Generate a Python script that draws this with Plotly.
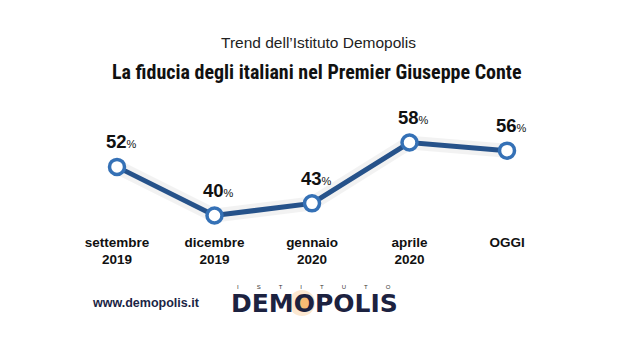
import plotly.graph_objects as go

categories = ["settembre<br>2019", "dicembre<br>2019", "gennaio<br>2020", "aprile<br>2020", "OGGI"]
values = [52, 40, 43, 58, 56]
subtitle = "Trend dell\u2019Istituto Demopolis"
title = "La fiducia degli italiani nel Premier Giuseppe Conte"
site = "www.demopolis.it"
logo_top = "ISTITUTO"
logo = "DEMOPOLIS"

W, H = 635, 357
OFF = 8  # page body margin


def px(x):
    return (x - OFF) / W


def py(y):
    return 1 - (y - OFF) / H


xs = list(range(len(categories)))

fig = go.Figure()
fig.add_trace(go.Scatter(x=xs, y=values, mode="lines",
                         line=dict(color="rgba(0,0,0,0.05)", width=14),
                         hoverinfo="skip", showlegend=False))
fig.add_trace(go.Scatter(x=xs, y=values, mode="lines+markers",
                         line=dict(color="#26528a", width=5),
                         marker=dict(size=15, color="white",
                                     line=dict(color="#3571b6", width=3.5)),
                         showlegend=False))

for x, v in zip(xs, values):
    fig.add_annotation(x=x, y=v, xref="x", yref="y",
                       text=f"<b>{v}</b><span style='font-size:11px'>%</span>",
                       showarrow=False, xshift=4, yshift=25,
                       xanchor="center", yanchor="middle",
                       font=dict(family="Liberation Sans, Arial, sans-serif", size=18.5, color="#111"))

fig.add_annotation(x=px(318), y=py(43), xref="paper", yref="paper", text=subtitle,
                   xanchor="center", yanchor="middle", showarrow=False,
                   font=dict(family="Liberation Sans, Arial", size=15.5, color="#222"))
fig.add_annotation(x=px(317), y=py(72), xref="paper", yref="paper", text=f"<b>{title}</b>",
                   xanchor="center", yanchor="middle", showarrow=False,
                   font=dict(family="Roboto Condensed, Liberation Sans", size=20, color="#111"))
fig.add_annotation(x=px(90), y=py(303), xref="paper", yref="paper",
                   xanchor="left", yanchor="middle",
                   text=f"<b>{site}</b>", showarrow=False,
                   font=dict(family="Liberation Sans, Arial", size=12.5, color="#1b2545"))

# logo glow
fig.add_shape(type="circle", xref="paper", yref="paper",
              x0=px(289), x1=px(315), y0=py(316), y1=py(290),
              fillcolor="rgba(245,165,70,0.25)", line=dict(width=0), layer="below")
fig.add_shape(type="circle", xref="paper", yref="paper",
              x0=px(295), x1=px(309), y0=py(310), y1=py(296),
              fillcolor="rgba(240,150,40,0.55)", line=dict(width=0), layer="below")
fig.add_annotation(x=px(314), y=py(303), xref="paper", yref="paper",
                   xanchor="center", yanchor="middle",
                   text=f"<b>{logo}</b>", showarrow=False,
                   font=dict(family="DejaVu Sans", size=25, color="#1c2240"))
fig.add_annotation(x=px(314), y=py(287), xref="paper", yref="paper",
                   xanchor="center", yanchor="middle",
                   text="\u2003\u2003\u2003".join(logo_top), showarrow=False,
                   font=dict(family="Liberation Sans, Arial", size=6, color="#333"))

# axes: point x=0 at px 117, step 97.5 ; y fitted to reference pixels
x0p, step = 117 - OFF, 97.5
slope, ymid, vmid = 4.055, 175.8 - OFF, 49.8
P = 224  # plot-area bottom in figure pixels
ytop = vmid + ymid / slope
ybot = vmid - (P - ymid) / slope

fig.update_layout(
    width=W, height=H, margin=dict(l=0, r=0, t=0, b=0),
    paper_bgcolor="white", plot_bgcolor="white",
    template="none",
    xaxis=dict(range=[-x0p / step, (W - x0p) / step], tickvals=xs,
               ticktext=[f"<b>{c}</b>" for c in categories],
               showgrid=False, zeroline=False, showline=False, ticks="",
               tickfont=dict(family="Liberation Sans, Arial", size=13.5, color="#111"),
               automargin=False, fixedrange=True),
    yaxis=dict(range=[ybot, ytop], domain=[1 - P / H, 1], visible=False,
               automargin=False, fixedrange=True),
)

fig.write_html("out.html")
